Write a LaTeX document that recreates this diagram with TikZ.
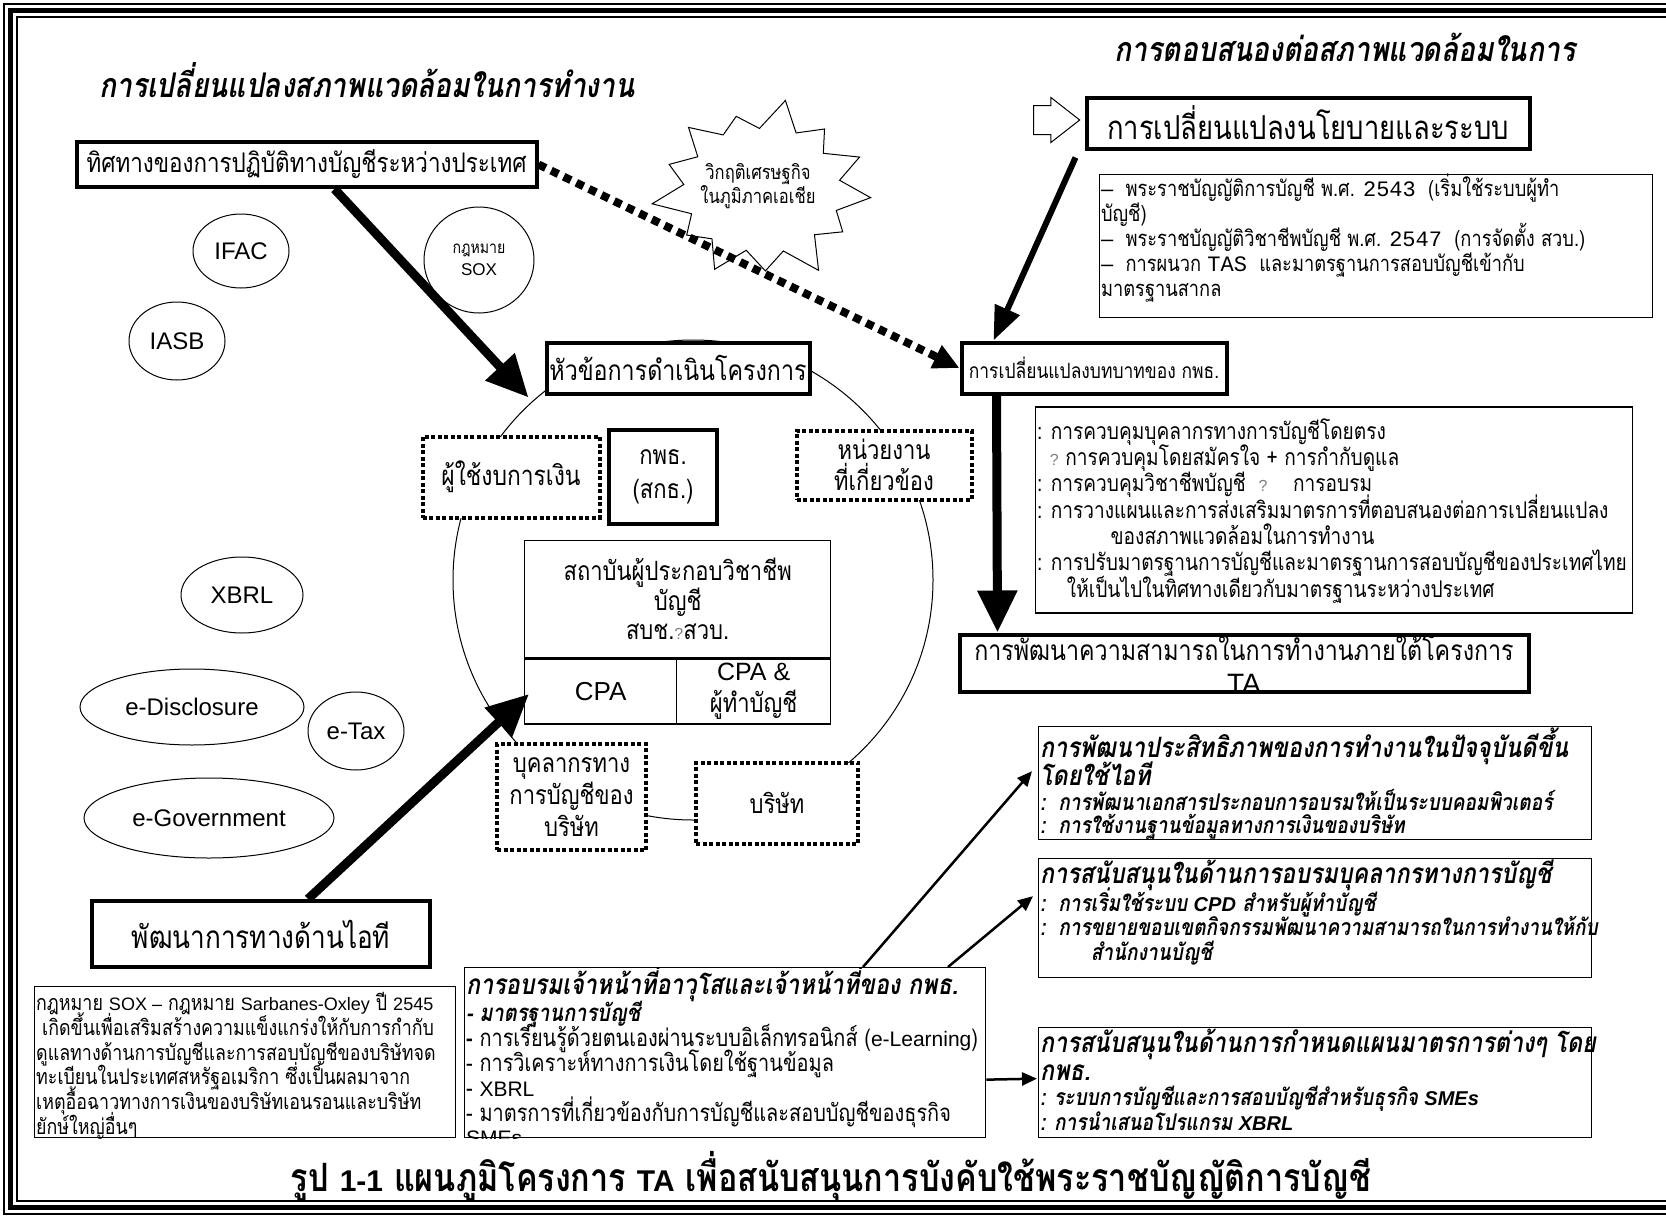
\documentclass[tikz,border=0pt]{standalone}
\usepackage{fontspec}
\setmainfont{Liberation Sans}
\setmonofont{Liberation Mono}
\newfontfamily\thai[Script=Thai, FakeStretch=0.83]{Loma}
\newfontfamily\latin{Liberation Sans}
\usetikzlibrary{arrows.meta, positioning, calc, shapes.geometric, shapes.arrows}
\newcommand{\fs}[2]{\fontsize{#1}{#2}\selectfont}
\newcommand{\qmark}{{\color{gray}\latin\fs{16}{16}?}}
\setlength{\lineskiplimit}{-60pt}
\setlength{\lineskip}{0pt}

\begin{document}
\begin{tikzpicture}[
  x=1pt, y=-1pt,
  font=\thai,
  thickbox/.style={draw, line width=4pt, fill=white, inner sep=0pt,
                   font=\thai\fs{26.5}{32}, align=center},
  dotbox/.style={draw, line width=4pt, dash pattern=on 4pt off 2.5pt,
                 fill=white, inner sep=0pt, font=\thai\fs{26.5}{32}, align=center},
  thinbox/.style={draw, line width=1.3pt, fill=white, inner sep=0pt},
  oval/.style={draw, ellipse, line width=1pt, fill=white, inner sep=0pt,
               font=\latin\fs{24}{26}},
  listtext/.style={anchor=north west, align=left, inner sep=2pt},
  heavy/.style={-{Triangle[length=42pt,width=38pt]}, line width=9pt},
  midheavy/.style={-{Triangle[length=34pt,width=26pt]}, line width=6pt},
  dashheavy/.style={-{Triangle[length=26pt,width=24pt]}, line width=8pt,
                    dash pattern=on 8pt off 6pt},
  slim/.style={-{Triangle[length=15pt,width=13pt]}, line width=2.5pt},
]
\useasboundingbox (0,0) rectangle (1666,1218);
% page frame, open on the right
\draw[line width=1.5pt] (1666,4) -- (4,4) -- (4,1214) -- (1666,1214);
\draw[line width=5pt] (1666,10.5) -- (10.5,10.5) -- (10.5,1207.5) -- (1666,1207.5);
\draw[line width=1.5pt] (1666,17) -- (17,17) -- (17,1201) -- (1666,1201);

% headings
\node[font=\thai\bfseries\itshape\fs{34}{36}] (envtitle) at (367,80)
  {การเปลี่ยนแปลงสภาพแวดล้อมในการทำงาน};
\node[font=\thai\bfseries\itshape\fs{34}{36}] (resptitle) at (1345,47)
  {การตอบสนองต่อสภาพแวดล้อมในการ};

% project ring
\node[circle, draw, line width=1pt, minimum size=480pt] (ring) at (693,580) {};

% left side
\node[thickbox, minimum width=460pt, minimum height=45pt, font=\thai\fs{27}{30}]
  (intl) at (306.5,164.5) {ทิศทางของการปฏิบัติทางบัญชีระหว่างประเทศ};
\node[oval, minimum width=96pt, minimum height=74pt] (ifac) at (241,251) {IFAC};
\node[oval, minimum width=96pt, minimum height=78pt] (iasb) at (177,341) {IASB};
\node[oval, minimum width=110pt, minimum height=106pt, align=center,
      font=\thai\fs{17}{22}] (soxlaw) at (479,260) {กฎหมาย\\{\latin\fs{17}{22}SOX}};
\node[oval, minimum width=122pt, minimum height=76pt] (xbrl) at (242,595) {XBRL};
\node[oval, minimum width=224pt, minimum height=76pt] (edisc) at (192,707) {e-Disclosure};
\node[oval, minimum width=96pt, minimum height=78pt] (etax) at (356,731) {e-Tax};
\node[oval, minimum width=250pt, minimum height=80pt] (egov) at (209,818) {e-Government};
\node[thickbox, minimum width=338pt, minimum height=66pt, font=\thai\fs{31.5}{34}]
  (itdev) at (261,934) {พัฒนาการทางด้านไอที};

% crisis burst and policy
\draw[line width=1pt, fill=white, shift={(762,190)}] (5:109 and 88)
  \foreach \k/\r in {1/0.72, 2/0.88, 3/0.70, 4/1.05, 5/0.72, 6/0.92, 7/0.70,
                     8/1.00, 9/0.72, 10/0.86, 11/0.70, 12/1.02, 13/0.72,
                     14/0.90, 15/0.70, 16/0.98, 17/0.72, 18/0.87, 19/0.70,
                     20/1.04, 21/0.72, 22/0.90, 23/0.70, 24/0.97, 25/0.72}
  { -- ({\k*13.846+5}:{109*\r} and {88*\r}) } -- cycle;
\node[align=center, font=\thai\fs{20}{24}] (crisis) at (758,186)
  {วิกฤติเศรษฐกิจ\\ในภูมิภาคเอเชีย};
\node[thickbox, minimum width=443pt, minimum height=51pt, font=\thai\fs{33}{36}]
  (policy) at (1308,123) {การเปลี่ยนแปลงนโยบายและระบบ};
\node[single arrow, draw, line width=1pt, fill=white, minimum height=46pt,
      inner xsep=0pt, inner ysep=14pt, single arrow head extend=8pt,
      single arrow tip angle=76, left=4pt of policy, yshift=3pt] (push) {};
\node[thinbox, minimum width=553pt, minimum height=143pt] (lawbox) at (1376,246) {};
\node[listtext, font=\thai\fs{22}{25}] (lawtxt) at ($(lawbox.north west)+(0,-2)$)
  {{\latin –}\ \ พระราชบัญญัติการบัญชี พ.ศ. \texttt{2543}\ \ (เริ่มใช้ระบบผู้ทำ\\
   บัญชี)\\
   {\latin –}\ \ พระราชบัญญัติวิชาชีพบัญชี พ.ศ. \texttt{2547}\ \ (การจัดตั้ง สวบ.)\\
   {\latin –}\ \ การผนวก \texttt{TAS}\ \ และมาตรฐานการสอบบัญชีเข้ากับ\\
   มาตรฐานสากล};

% role of the department
\node[thickbox, minimum width=265pt, minimum height=51pt, font=\thai\fs{21}{24}]
  (role) at (1094,368) {การเปลี่ยนแปลงบทบาทของ กพธ.};
\node[thinbox, minimum width=597pt, minimum height=206pt] (dutybox) at (1334,510) {};
\node[listtext, font=\thai\fs{23}{26.3}] (dutytxt) at ($(dutybox.north west)+(0,10)$)
  {: การควบคุมบุคลากรทางการบัญชีโดยตรง\\
   \ \ \qmark\ การควบคุมโดยสมัครใจ + การกำกับดูแล\\
   : การควบคุมวิชาชีพบัญชี\ \ \qmark\ \ \ \ การอบรม\\
   : การวางแผนและการส่งเสริมมาตรการที่ตอบสนองต่อการเปลี่ยนแปลง\\
   \hspace*{3.2em}ของสภาพแวดล้อมในการทำงาน\\
   : การปรับมาตรฐานการบัญชีและมาตรฐานการสอบบัญชีของประเทศไทย\\
   \hspace*{1.3em}ให้เป็นไปในทิศทางเดียวกับมาตรฐานระหว่างประเทศ};
\node[thickbox, minimum width=569pt, minimum height=57pt] (dev) at (1244,663) {};
\begin{scope}
  \clip (dev.south west) rectangle (dev.north east);
  \node[font=\thai\fs{28}{33}, align=center, anchor=north, inner sep=0pt] (devtxt)
    at ($(dev.north)+(0,3)$) {การพัฒนาความสามารถในการทำงานภายใต้โครงการ\\{\latin TA}};
\end{scope}

% project topics inside the ring
\node[thickbox, minimum width=263pt, minimum height=51pt, font=\thai\fs{28}{30}]
  (topic) at (678,368) {หัวข้อการดำเนินโครงการ};
\node[dotbox, minimum width=177pt, minimum height=81pt, font=\thai\fs{27.5}{30}]
  (users) at (511,477) {ผู้ใช้งบการเงิน};
\node[thickbox, minimum width=108pt, minimum height=94pt, font=\thai\fs{26.5}{34}]
  (tfac) at (663,477) {กพธ.\\(สกธ.)};
\node[dotbox, minimum width=175pt, minimum height=69pt, font=\thai\fs{26.5}{31}]
  (agency) at (884,465) {หน่วยงาน\\ที่เกี่ยวข้อง};
\node[thinbox, minimum width=306pt, minimum height=117pt, anchor=north west,
      align=center, font=\thai\fs{26.5}{29.5}] (inst) at (524,540)
  {สถาบันผู้ประกอบวิชาชีพ\\บัญชี\\สบช.\qmark สวบ.};
\node[thinbox, minimum width=152pt, minimum height=65pt, anchor=north west,
      font=\latin\fs{26}{28}] (cpa) at (inst.south west) {CPA};
\node[thinbox, minimum width=154pt, minimum height=65pt, anchor=north east,
      align=center, font=\thai\fs{26.5}{32}] (cpaacc) at (inst.south east)
  {{\latin\fs{25}{28}CPA \&}\\ผู้ทำบัญชี};
\node[dotbox, minimum width=149pt, minimum height=106pt] (staff) at (571.5,797)
  {บุคลากรทาง\\การบัญชีของ\\บริษัท};
\node[dotbox, minimum width=162pt, minimum height=81pt] (firm) at (777,803) {บริษัท};

% notes at the bottom
\node[thinbox, minimum width=421pt, minimum height=151pt, anchor=north west]
  (soxnote) at (34,986) {};
\node[listtext, font=\thai\fs{21.5}{24.8}] (soxtxt) at ($(soxnote.north west)+(0,4)$)
  {กฎหมาย {\latin\fs{18}{24.8}SOX –} กฎหมาย {\latin\fs{18}{24.8}Sarbanes-Oxley} ปี {\latin\fs{18}{24.8}2545}\\
   \ เกิดขึ้นเพื่อเสริมสร้างความแข็งแกร่งให้กับการกำกับ\\
   ดูแลทางด้านการบัญชีและการสอบบัญชีของบริษัทจด\\
   ทะเบียนในประเทศสหรัฐอเมริกา ซึ่งเป็นผลมาจาก\\
   เหตุอื้อฉาวทางการเงินของบริษัทเอนรอนและบริษัท\\
   ยักษ์ใหญ่อื่นๆ};
\node[thinbox, minimum width=521pt, minimum height=170pt, anchor=north west]
  (train) at (464,967) {};
\begin{scope}
  \clip (train.south west) rectangle (train.north east);
  \node[listtext, font=\thai\fs{24}{24.8}] (traintxt) at ($(train.north west)+(0,-4)$)
    {{\bfseries\itshape\fs{28}{30}การอบรมเจ้าหน้าที่อาวุโสและเจ้าหน้าที่ของ กพธ.}\\[3pt]
     {\bfseries\itshape - มาตรฐานการบัญชี}\\
     {\bfseries -} การเรียนรู้ด้วยตนเองผ่านระบบอิเล็กทรอนิกส์ ({\latin\fs{21}{26}e-Learning})\\
     - การวิเคราะห์ทางการเงินโดยใช้ฐานข้อมูล\\
     - {\latin\fs{21}{26}XBRL}\\
     - มาตรการที่เกี่ยวข้องกับการบัญชีและสอบบัญชีของธุรกิจ\\
     {\latin\fs{21}{26}SMEs}};
\end{scope}

% support boxes
\node[thinbox, minimum width=553pt, minimum height=113pt, anchor=north west]
  (itbox) at (1038,726) {};
\node[listtext, font=\thai\bfseries\itshape\fs{28}{22.5}] (ittxt) at (itbox.north west)
  {การพัฒนาประสิทธิภาพของการทำงานในปัจจุบันดีขึ้น\\[5pt]
   โดยใช้ไอที\\[3pt]
   \fs{23}{22.5}:\ \ การพัฒนาเอกสารประกอบการอบรมให้เป็นระบบคอมพิวเตอร์\\
   \fs{23}{22.5}:\ \ การใช้งานฐานข้อมูลทางการเงินของบริษัท};
\node[thinbox, minimum width=553pt, minimum height=119pt, anchor=north west]
  (cpdbox) at (1038,858) {};
\node[listtext, font=\thai\bfseries\itshape\fs{28}{24.5}] (cpdtxt) at (cpdbox.north west)
  {การสนับสนุนในด้านการอบรมบุคลากรทางการบัญชี\\[3pt]
   \fs{23}{24.5}:\ \ การเริ่มใช้ระบบ {\latin\fs{20}{23}CPD} สำหรับผู้ทำบัญชี\\
   \fs{23}{24.5}:\ \ การขยายขอบเขตกิจกรรมพัฒนาความสามารถในการทำงานให้กับ\\
   \fs{23}{24.5}\hspace*{2.2em}สำนักงานบัญชี};
\node[thinbox, minimum width=553pt, minimum height=110pt, anchor=north west]
  (planbox) at (1038,1027) {};
\node[listtext, font=\thai\bfseries\itshape\fs{28}{25}] (plantxt) at (planbox.north west)
  {การสนับสนุนในด้านการกำหนดแผนมาตรการต่างๆ โดย\\[3pt]
   กพธ.\\
   \fs{23}{25}: ระบบการบัญชีและการสอบบัญชีสำหรับธุรกิจ {\latin\fs{20}{23}SMEs}\\
   \fs{23}{25}: การนำเสนอโปรแกรม {\latin\fs{20}{23}XBRL}};

% caption
\node[font=\thai\bfseries\fs{39}{40}] (caption) at (831,1177)
  {รูป {\latin\fs{30}{40}1-1} แผนภูมิโครงการ {\latin\fs{30}{40}TA} เพื่อสนับสนุนการบังคับใช้พระราชบัญญัติการบัญชี};

% connectors
\draw[heavy] ($(intl.south)+(28,0)$) -- ($(topic.south west)+(-16,2)$);
\draw[dashheavy] (intl.east) -- (role.west);
\draw[midheavy] ($(policy.south west)+(-9,7)$) -- ($(role.north west)+(34,0)$);
\draw[heavy] ($(role.south west)+(37,0)$) -- ($(dev.north west)+(40,0)$);
\draw[heavy] ($(itdev.north)+(47,0)$) -- ($(staff.north west)+(34,-48)$);
\draw[slim] ($(train.north west)+(399,0)$) -- ($(itbox.west)+(-6,-12)$);
\draw[slim] ($(train.north west)+(484,0)$) -- ($(cpdbox.west)+(-5,-22)$);
\draw[slim] ($(train.east)+(0,27)$) -- ($(planbox.west)+(-1,-4)$);
\end{tikzpicture}
\end{document}
